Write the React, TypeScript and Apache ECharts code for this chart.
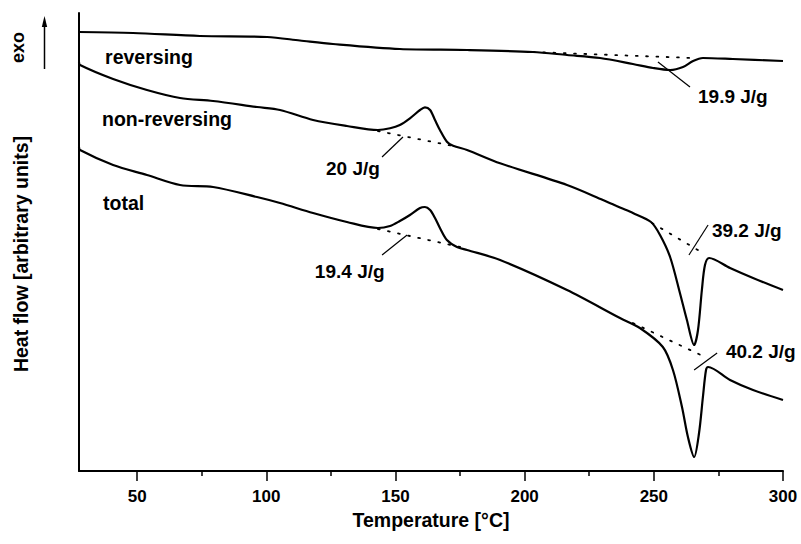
import React, { useEffect, useRef } from "react";
import * as echarts from "echarts";

// Temperature axis (°C)
const xMin = 27.5;
const xMax = 300;
const xMajorTicks = [50, 100, 150, 200, 250, 300];
const xMinorTicks = [75, 125, 175, 225, 275];

// Heat flow, arbitrary units
const yMin = 0;
const yMax = 458;

const reversing: [number, number][] = [
  [27.5, 439], [48.4, 438], [74.3, 435], [100.3, 434], [113.0, 430.5],
  [125.8, 427], [151.7, 422], [177.7, 421], [203.2, 419], [216.4, 416],
  [229.2, 413], [241.9, 407], [249.7, 403], [256.3, 401], [261.3, 404],
  [265.2, 410], [269.0, 413], [280.6, 412], [300.0, 410],
];

const nonReversing: [number, number][] = [
  [27.5, 409], [27.9, 406], [40.7, 392], [53.8, 381], [66.6, 373],
  [79.4, 370], [96.4, 364], [105.3, 361], [118.1, 351], [131.2, 345],
  [143.2, 341], [147.9, 342.7], [151.7, 346], [155.6, 352.7], [159.5, 361],
  [161.4, 363.7], [163.4, 361], [165.3, 351], [167.2, 341], [169.9, 329.3],
  [172.3, 325.3], [177.7, 321], [190.5, 307.7], [216.4, 286], [230.3, 271],
  [236.9, 263.5], [241.9, 258], [248.9, 249], [252.4, 236], [256.3, 214],
  [260.1, 178], [262.8, 151], [265.6, 126], [267.1, 141], [268.6, 181],
  [269.8, 206], [271.4, 213], [279.5, 203], [288.4, 193], [300.0, 181],
];

const total: [number, number][] = [
  [27.5, 324], [27.9, 321], [40.7, 306], [53.8, 296], [66.6, 286],
  [79.4, 284], [96.4, 274], [105.3, 268], [118.1, 258], [131.2, 249],
  [143.2, 243], [147.9, 245], [151.7, 250], [155.6, 256], [159.5, 263],
  [161.4, 264], [163.4, 261], [165.3, 253], [167.2, 243], [169.9, 231],
  [173.8, 224], [177.7, 221], [190.5, 211], [216.4, 181], [236.9, 153],
  [244.6, 143], [253.5, 124], [257.4, 101], [260.9, 64], [263.2, 34],
  [265.6, 14], [267.5, 38], [269.0, 74], [270.2, 101], [271.0, 104],
  [279.5, 91], [288.4, 81], [300.0, 71],
];

// Integration baselines (dotted)
const baselineReversing: [number, number][] = [[203.2, 419], [265.2, 413]];
const baselineNonRevCold: [number, number][] = [[143.2, 340], [172.3, 325]];
const baselineTotalCold: [number, number][] = [[143.2, 242], [175.0, 224]];
const baselineNonRevMelt: [number, number][] = [[249.3, 248], [269.0, 218]];
const baselineTotalMelt: [number, number][] = [[241.9, 148], [269.8, 114]];

// Leader lines from peaks to labels
const leaderReversing: [number, number][] = [[251.6, 409], [264.0, 384]];
const leaderNonRevCold: [number, number][] = [[152.9, 334], [144.8, 314]];
const leaderTotalCold: [number, number][] = [[154.5, 236], [144.8, 216]];
const leaderNonRevMelt: [number, number][] = [[271.0, 246], [263.6, 216]];
const leaderTotalMelt: [number, number][] = [[274.5, 118], [265.6, 101]];

const curveNames = ["reversing", "non-reversing", "total"];
const curveNamePositions: [number, number][] = [[37.6, 414], [36.4, 352], [36.8, 268]];

const enthalpyTexts = ["19.9 J/g", "20 J/g", "19.4 J/g", "39.2 J/g", "40.2 J/g"];
const enthalpyPositions: [number, number][] = [
  [267.1, 375], [123.1, 303], [118.8, 199.5], [272.5, 241], [277.9, 120],
];

const FONT = "'Liberation Sans', Arial, Helvetica, sans-serif";
const INK = "#000";

export default function App() {
  const ref = useRef<HTMLDivElement>(null);

  useEffect(() => {
    document.body.style.margin = "0";
    if (!ref.current) return;
    const chart = echarts.init(ref.current, undefined, { renderer: "svg" });

    const curve = (name: string, data: [number, number][]) => ({
      name,
      type: "line",
      data,
      symbol: "none",
      showSymbol: false,
      smooth: 0.3,
      silent: true,
      lineStyle: { color: INK, width: 2.2 },
      z: 3,
    });
    const dotted = (name: string, data: [number, number][]) => ({
      name,
      type: "line",
      data,
      symbol: "none",
      silent: true,
      lineStyle: { color: INK, width: 1.8, type: [1.8, 8.5], cap: "round" },
      z: 2,
    });
    const leader = (name: string, data: [number, number][]) => ({
      name,
      type: "line",
      data,
      symbol: "none",
      silent: true,
      lineStyle: { color: INK, width: 1.2 },
      z: 2,
    });
    const textLabels = (name: string, texts: string[], pos: [number, number][], size: number) => ({
      name,
      type: "scatter",
      symbolSize: 0,
      silent: true,
      itemStyle: { opacity: 1, color: INK },
      data: texts.map((t, i) => ({ name: t, value: pos[i] })),
      label: {
        show: true,
        formatter: "{b}",
        position: "right",
        distance: 0,
        color: INK,
        opacity: 1,
        fontSize: size,
        fontWeight: "bold",
        fontFamily: FONT,
      },
      z: 4,
    });

    chart.setOption({
      animation: false,
      backgroundColor: "#fff",
      grid: { left: 79, right: 18, top: 13, bottom: 73, containLabel: false, outerBoundsMode: "none" },
      xAxis: [
        {
          type: "value",
          min: xMin,
          max: xMax,
          position: "bottom",
          name: "Temperature [°C]",
          nameLocation: "middle",
          nameGap: 39,
          nameTextStyle: { color: INK, fontSize: 19.5, fontWeight: "bold", fontFamily: FONT },
          axisLine: { show: true, onZero: false, lineStyle: { color: INK, width: 2 } },
          axisTick: { show: true, customValues: xMajorTicks, length: 10, lineStyle: { color: INK, width: 1.5 } },
          axisLabel: {
            show: true,
            customValues: xMajorTicks,
            margin: 17,
            color: INK,
            fontSize: 17,
            fontWeight: "bold",
            fontFamily: FONT,
          },
          splitLine: { show: false },
        },
        {
          type: "value",
          min: xMin,
          max: xMax,
          position: "bottom",
          axisLine: { show: false },
          axisTick: { show: true, customValues: xMinorTicks, length: 5, lineStyle: { color: INK, width: 1.5 } },
          axisLabel: { show: false },
          splitLine: { show: false },
        },
      ],
      yAxis: {
        type: "value",
        min: yMin,
        max: yMax,
        axisLine: { show: true, onZero: false, lineStyle: { color: INK, width: 2 } },
        axisTick: { show: false },
        axisLabel: { show: false },
        splitLine: { show: false },
      },
      graphic: [
        {
          type: "text",
          x: 20.5,
          y: 254,
          rotation: Math.PI / 2,
          silent: true,
          style: {
            text: "Heat flow [arbitrary units]",
            fill: INK,
            fontSize: 19.5,
            fontWeight: "bold",
            fontFamily: FONT,
            align: "center",
            verticalAlign: "middle",
          },
        },
        {
          type: "text",
          x: 17.5,
          y: 47.5,
          rotation: Math.PI / 2,
          silent: true,
          style: {
            text: "exo",
            fill: INK,
            fontSize: 18,
            fontWeight: "bold",
            fontFamily: FONT,
            align: "center",
            verticalAlign: "middle",
          },
        },
        {
          type: "line",
          silent: true,
          shape: { x1: 44.5, y1: 69, x2: 44.5, y2: 24 },
          style: { stroke: INK, lineWidth: 1.5 },
        },
        {
          type: "polygon",
          silent: true,
          shape: { points: [[44.5, 16], [41.8, 27], [47.2, 27]] },
          style: { fill: INK },
        },
      ],
      series: [
        curve("reversing", reversing),
        curve("non-reversing", nonReversing),
        curve("total", total),
        dotted("baseline reversing", baselineReversing),
        dotted("baseline non-reversing cold crystallization", baselineNonRevCold),
        dotted("baseline total cold crystallization", baselineTotalCold),
        dotted("baseline non-reversing melting", baselineNonRevMelt),
        dotted("baseline total melting", baselineTotalMelt),
        leader("leader reversing", leaderReversing),
        leader("leader non-reversing cold", leaderNonRevCold),
        leader("leader total cold", leaderTotalCold),
        leader("leader non-reversing melt", leaderNonRevMelt),
        leader("leader total melt", leaderTotalMelt),
        textLabels("curve names", curveNames, curveNamePositions, 19.5),
        textLabels("enthalpies", enthalpyTexts, enthalpyPositions, 19),
      ],
    });

    return () => chart.dispose();
  }, []);

  return <div ref={ref} style={{ width: 801, height: 544, display: "block" }} />;
}
